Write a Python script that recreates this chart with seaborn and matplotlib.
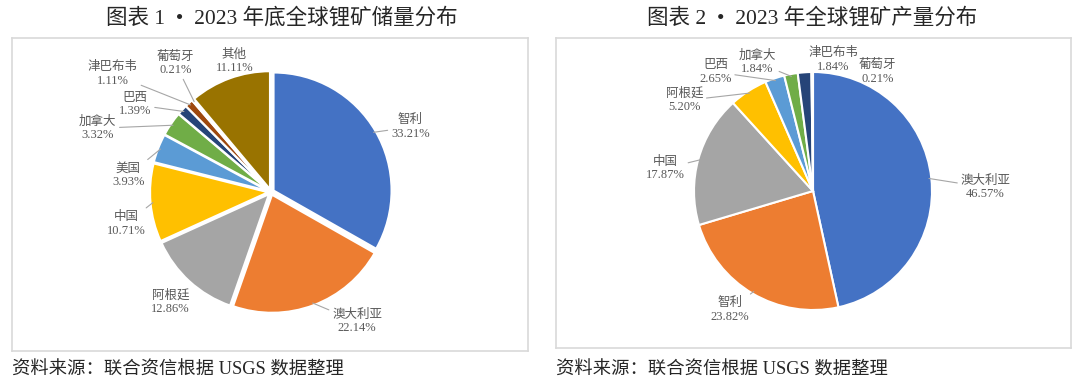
import numpy as np
import seaborn as sns
import matplotlib.pyplot as plt

# 图表 1: 2023 年底全球锂矿储量分布 (%)
reserve_names = ["智利", "澳大利亚", "阿根廷", "中国", "美国", "加拿大", "巴西", "津巴布韦", "葡萄牙", "其他"]
reserve_share = [33.21, 22.14, 12.86, 10.71, 3.93, 3.32, 1.39, 1.11, 0.21, 11.11]

# 图表 2: 2023 年全球锂矿产量分布 (%)
output_names = ["澳大利亚", "智利", "中国", "阿根廷", "巴西", "加拿大", "津巴布韦", "葡萄牙"]
output_share = [46.57, 23.82, 17.87, 5.20, 2.65, 1.84, 1.84, 0.21]

titles = ["图表 1  •  2023 年底全球锂矿储量分布", "图表 2  •  2023 年全球锂矿产量分布"]
source_note = "资料来源：联合资信根据 USGS 数据整理"

# label anchors (in radius units) and whether a leader line is drawn
reserve_label_xy = [(1.18, 0.55), (0.73, -1.10), (-0.85, -0.93), (-1.23, -0.27), (-1.21, 0.14),
                    (-1.47, 0.54), (-1.15, 0.74), (-1.34, 1.00), (-0.81, 1.09), (-0.31, 1.11)]
reserve_leader = [True, True, False, True, True, True, True, True, True, False]
output_label_xy = [(1.45, 0.03), (-0.70, -1.00), (-1.24, 0.19), (-1.08, 0.76),
                   (-0.82, 1.00), (-0.47, 1.08), (0.17, 1.10), (0.54, 1.00)]
output_leader = [True, True, True, True, True, True, False, False]

office = sns.color_palette(["#4472C4", "#ED7D31", "#A5A5A5", "#FFC000", "#5B9BD5",
                            "#70AD47", "#264478", "#9E480E", "#636363", "#997300"])

sns.set_theme(style="white")
FONT = ["Liberation Serif", "Noto Sans CJK SC", "DejaVu Sans"]
plt.rcParams["font.family"] = FONT

W, H = 1080, 384
fig = plt.figure(figsize=(W / 100, H / 100), dpi=100)


def px_axes(box, center, r):
    # box: (x0, y0, x1, y1) in pixels from top-left; returns axes with 1 unit = r px
    x0, y0, x1, y1 = box
    ax = fig.add_axes([x0 / W, 1 - y1 / H, (x1 - x0) / W, (y1 - y0) / H])
    return ax, ((x0 - center[0]) / r, (x1 - center[0]) / r), ((center[1] - y1) / r, (center[1] - y0) / r)


def draw_pie(ax, xlim, ylim, names, share, colors, label_xy, leader, explode):
    wedges, _ = ax.pie(share, colors=colors, startangle=90, counterclock=False,
                       explode=[explode] * len(share),
                       wedgeprops=dict(edgecolor="white", linewidth=1.5))
    ax.set_xlim(*xlim)
    ax.set_ylim(*ylim)
    ax.set_aspect("auto")
    ax.set_frame_on(True)
    for s in ax.spines.values():
        s.set_visible(True)
        s.set_color("#D9D9D9")
        s.set_linewidth(1.2)
    for w, name, v, (lx, ly), line in zip(wedges, names, share, label_xy, leader):
        mid = np.deg2rad((w.theta1 + w.theta2) / 2)
        cx, cy = w.center
        tip = (cx + 0.98 * np.cos(mid), cy + 0.98 * np.sin(mid))
        ax.annotate(f"{name}\n{v:.2f}%", xy=tip, xytext=(lx, ly), ha="center", va="center",
                    fontsize=9, color="#595959", family=FONT, linespacing=1.15,
                    arrowprops=dict(arrowstyle="-", color="#A6A6A6", lw=0.8,
                                    shrinkA=0, shrinkB=0) if line else None)


ax1, xl1, yl1 = px_axes((12, 38, 528, 351), (271, 192), 118)
draw_pie(ax1, xl1, yl1, reserve_names, reserve_share, office, reserve_label_xy, reserve_leader, 0.025)

colors2 = office[:8]
ax2, xl2, yl2 = px_axes((556, 38, 1071, 348), (813, 191), 119)
draw_pie(ax2, xl2, yl2, output_names, output_share, colors2, output_label_xy, output_leader, 0.0)

fig.text(282 / W, 1 - 18 / H, titles[0], ha="center", va="center", fontsize=15.5, color="#262626")
fig.text(812 / W, 1 - 18 / H, titles[1], ha="center", va="center", fontsize=15.5, color="#262626")
fig.text(12 / W, 1 - 370 / H, source_note, ha="left", va="center", fontsize=13.2, color="#262626")
fig.text(556 / W, 1 - 370 / H, source_note, ha="left", va="center", fontsize=13.2, color="#262626")

fig.savefig("out.png", dpi=100, facecolor="white")
